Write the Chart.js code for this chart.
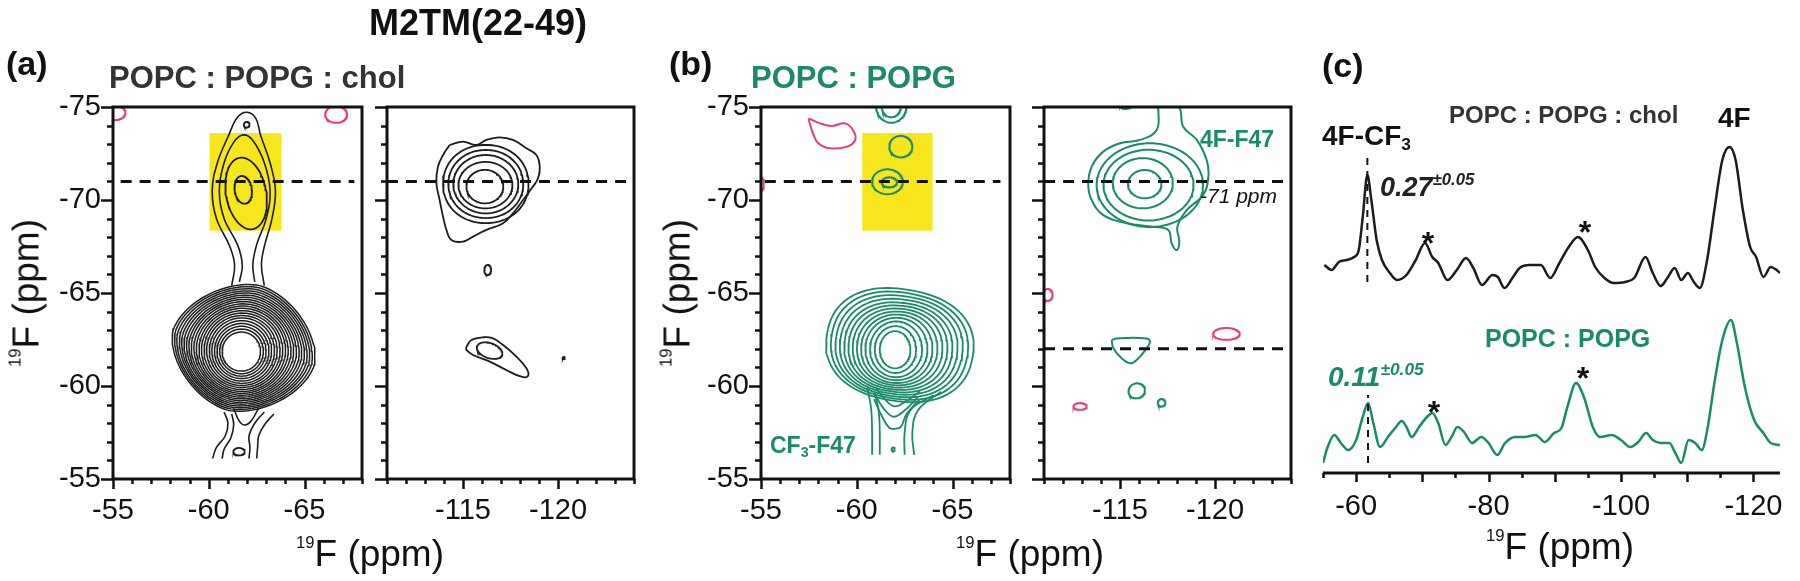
<!DOCTYPE html>
<html lang="en">
<head>
<meta charset="UTF-8">
<title>M2TM(22-49) 19F spectra</title>
<script src="https://cdn.jsdelivr.net/npm/chart.js"></script>
<style>
  body { margin: 0; background: #fff; }
  #fig { position: relative; width: 1800px; height: 581px; overflow: hidden; background: #fff;
         font-family: "Liberation Sans", Arial, Helvetica, sans-serif; color: #111; }
  #fig canvas { position: absolute; top: 0; }
  .t { position: absolute; line-height: 1; white-space: nowrap; }
  .b { font-weight: bold; }
  .i { font-style: italic; }
  .g { color: #1a8a6a; }
  .c { transform: translateX(-50%); }
  .t sup { line-height: 0; }
  .t sub { line-height: 0; font-size: 0.62em; vertical-align: -0.3em; }
  .ax sup { font-size: 0.45em; vertical-align: 1.1em; }
  .pm sup { font-size: 0.62em; vertical-align: 0.65em; }
  .rot { transform: translate(-50%, -50%) rotate(-90deg); }
</style>
</head>
<body>
<div id="fig">
  <canvas id="a1" width="323" height="581" style="left:43px"></canvas>
  <canvas id="a2" width="321" height="581" style="left:317px"></canvas>
  <canvas id="b1" width="323" height="581" style="left:691px"></canvas>
  <canvas id="b2" width="321" height="581" style="left:974px"></canvas>
  <canvas id="c1" width="500" height="581" style="left:1300px"></canvas>

  <div class="t b" style="left:369px;top:5px;font-size:36px">M2TM(22-49)</div>
  <div class="t b" style="left:6px;top:46px;font-size:34px">(a)</div>
  <div class="t b" style="left:109px;top:62px;font-size:31px;color:#333">POPC : POPG : chol</div>
  <div class="t b" style="left:669px;top:46px;font-size:34px">(b)</div>
  <div class="t b g" style="left:751px;top:62px;font-size:31px">POPC : POPG</div>
  <div class="t b g" style="left:770px;top:434px;font-size:23px">CF<sub>3</sub>-F47</div>
  <div class="t b g" style="left:1200px;top:128px;font-size:23px">4F-F47</div>
  <div class="t i" style="left:1200px;top:185px;font-size:21px">-71 ppm</div>

  <div class="t ax rot" style="left:26px;top:293px;font-size:37px"><sup>19</sup>F (ppm)</div>
  <div class="t ax rot" style="left:677px;top:293px;font-size:37px"><sup>19</sup>F (ppm)</div>
  <div class="t ax c" style="left:370px;top:535px;font-size:37px"><sup>19</sup>F (ppm)</div>
  <div class="t ax c" style="left:1030px;top:535px;font-size:37px"><sup>19</sup>F (ppm)</div>
  <div class="t ax c" style="left:1560px;top:528px;font-size:37px"><sup>19</sup>F (ppm)</div>

  <div class="t b" style="left:1322px;top:48px;font-size:34px">(c)</div>
  <div class="t b" style="left:1322px;top:122px;font-size:28px">4F-CF<sub>3</sub></div>
  <div class="t b" style="left:1449px;top:103px;font-size:24px;color:#333">POPC : POPG : chol</div>
  <div class="t b" style="left:1718px;top:104px;font-size:28px">4F</div>
  <div class="t b i pm" style="left:1380px;top:174px;font-size:27px;color:#222">0.27<sup>±0.05</sup></div>
  <div class="t b g" style="left:1485px;top:326px;font-size:25px">POPC : POPG</div>
  <div class="t b i g pm" style="left:1328px;top:363px;font-size:28px">0.11<sup>±0.05</sup></div>
  <div class="t b c" style="left:1428px;top:227px;font-size:32px">*</div>
  <div class="t b c" style="left:1585px;top:216px;font-size:32px">*</div>
  <div class="t b c" style="left:1434px;top:396px;font-size:32px">*</div>
  <div class="t b c" style="left:1583px;top:362px;font-size:32px">*</div>
</div>

<script>
// ---------- data (19F shifts in ppm) ----------
// contour rows: [centre x, centre y, half-width x, half-width y, tilt deg, shape n]
const aBlob = [
  [-61.82, -62.05, 3.80, 3.45, -14, 1.7], [-61.81, -62.04, 3.66, 3.34, -14, 1.72],
  [-61.80, -62.03, 3.52, 3.23, -13, 1.74], [-61.80, -62.02, 3.38, 3.12, -13, 1.76],
  [-61.79, -62.01, 3.24, 3.01, -12, 1.78], [-61.78, -62.00, 3.10, 2.90, -11, 1.8],
  [-61.78, -61.99, 2.96, 2.79, -10, 1.82], [-61.77, -61.98, 2.82, 2.68, -9, 1.85],
  [-61.76, -61.97, 2.68, 2.57, -8, 1.88], [-61.76, -61.96, 2.54, 2.46, -7, 1.9],
  [-61.75, -61.95, 2.40, 2.35, -6, 1.92], [-61.75, -61.94, 2.26, 2.24, -5, 1.95],
  [-61.74, -61.93, 2.12, 2.12, -4, 1.97], [-61.74, -61.92, 1.98, 2.00, -3, 2.0],
  [-61.73, -61.91, 1.84, 1.88, -2, 2.0], [-61.73, -61.90, 1.70, 1.76, 0, 2.0],
  [-61.72, -61.89, 1.56, 1.62, 0, 2.0], [-61.72, -61.88, 1.42, 1.48, 0, 2.0],
  [-61.71, -61.87, 1.28, 1.34, 0, 2.0], [-61.71, -61.86, 1.14, 1.20, 0, 2.0],
  [-61.70, -61.85, 1.00, 1.05, 0, 2.0]
];
const aPeak = [
  [-61.95, -70.35, 1.05, 1.95, 10, 2], [-61.80, -70.55, 0.45, 0.75, 8, 2],
  [-61.98, -74.05, 0.15, 0.15, 0, 2], [-61.58, -56.47, 0.30, 0.20, 0, 2]
];
const aLines = [
  [[-61.2,-65.4],[-61.35,-66.5],[-61.1,-67.5],[-60.4,-69.0],[-60.18,-70.5],[-60.45,-72.0],[-61.05,-73.5],[-61.5,-74.45],[-62.0,-74.72],[-62.45,-74.4],[-62.7,-73.5],[-63.2,-72.0],[-63.48,-70.5],[-63.3,-69.0],[-62.9,-67.5],[-62.75,-66.5],[-62.9,-65.4]],
  [[-61.6,-65.6],[-61.75,-66.5],[-61.5,-67.6],[-60.8,-69.0],[-60.55,-70.5],[-60.8,-72.0],[-61.3,-73.1],[-61.8,-73.5],[-62.3,-73.2],[-62.9,-72.0],[-63.2,-70.5],[-63.0,-69.0],[-62.5,-67.6],[-62.3,-66.5],[-62.4,-65.6]],
  [[-60.8,-58.6],[-61.0,-58.0],[-60.85,-57.3],[-60.4,-56.7],[-60.2,-56.1]],
  [[-61.2,-58.5],[-61.3,-57.9],[-61.15,-57.2],[-60.8,-56.6],[-60.7,-56.1]],
  [[-62.9,-58.6],[-62.4,-58.0],[-62.1,-57.3],[-62.15,-56.7],[-62.1,-56.1]],
  [[-63.4,-58.5],[-62.9,-57.9],[-62.6,-57.3],[-62.55,-56.7],[-62.5,-56.1]],
  [[-61.3,-58.8],[-61.6,-58.1],[-61.9,-57.9],[-62.2,-58.1],[-62.6,-58.8]]
];
const aNeg = [[-55.1, -74.7, 0.55, 0.4, 0, 2], [-66.65, -74.6, 0.57, 0.45, 0, 2]];

const a2Rings = [
  [-116.2, -70.86, 2.25, 2.10, 0, 2.1], [-116.2, -70.86, 1.97, 1.83, 0, 2.05],
  [-116.2, -70.85, 1.71, 1.57, 0, 2], [-116.18, -70.80, 1.42, 1.25, 0, 2],
  [-116.15, -70.72, 0.97, 0.90, 0, 2], [-116.3, -66.24, 0.18, 0.27, 0, 2],
  [-116.4, -61.90, 0.70, 0.40, -20, 2], [-120.3, -61.50, 0.06, 0.06, 0, 2]
];
const a2Outer = [[-114.30,-72.96],[-115.00,-73.14],[-115.70,-72.96],[-116.23,-73.23],[-116.93,-73.37],[-117.63,-73.23],[-118.34,-72.78],[-118.86,-72.42],[-119.04,-71.79],[-118.95,-71.17],[-118.68,-70.72],[-118.16,-70.00],[-117.63,-69.28],[-117.11,-68.75],[-116.23,-68.39],[-115.53,-68.03],[-115.00,-67.76],[-114.39,-67.85],[-114.13,-68.39],[-113.95,-69.10],[-113.77,-70.00],[-113.60,-70.90],[-113.68,-71.79],[-113.95,-72.42]];
const a2Tear = [[-115.18,-62.11],[-115.44,-62.47],[-116.05,-62.62],[-116.58,-62.56],[-117.11,-62.20],[-117.81,-61.58],[-118.34,-60.95],[-118.42,-60.54],[-118.07,-60.50],[-117.28,-60.86],[-116.41,-61.31],[-115.53,-61.67],[-115.18,-61.94]];

const bBlob = [
  [-62.25, -62.20, 3.85, 3.00, -10, 2.3], [-62.23, -62.17, 3.58, 2.85, -10, 2.28],
  [-62.21, -62.14, 3.32, 2.70, -9, 2.26], [-62.19, -62.11, 3.07, 2.55, -8, 2.24],
  [-62.17, -62.08, 2.82, 2.40, -7, 2.22], [-62.15, -62.06, 2.58, 2.26, -6, 2.2],
  [-62.13, -62.04, 2.34, 2.12, -5, 2.16], [-62.11, -62.02, 2.10, 1.98, -4, 2.12],
  [-62.09, -62.00, 1.86, 1.84, -2, 2.08], [-62.07, -61.99, 1.62, 1.68, 0, 2.05],
  [-62.05, -61.97, 1.36, 1.50, 0, 2], [-62.02, -61.96, 1.08, 1.26, 0, 2],
  [-62.00, -61.95, 0.80, 1.00, 0, 2]
];
const bPeak = [
  [-61.8, -75.1, 0.8, 0.95, 0, 2], [-61.8, -75.05, 0.5, 0.6, 0, 2],
  [-62.3, -72.87, 0.6, 0.58, 0, 2], [-61.6, -70.98, 0.8, 0.67, 0, 2],
  [-61.7, -70.95, 0.4, 0.27, 0, 2], [-61.9, -56.6, 0.08, 0.1, 0, 2]
];
const bLines = [
  [[-60.55,-59.9],[-60.75,-58.8],[-60.8,-57.5],[-60.8,-56.3]],
  [[-60.95,-59.6],[-61.15,-58.6],[-61.2,-57.5],[-61.2,-56.3]],
  [[-64.4,-59.7],[-63.2,-58.7],[-62.9,-57.5],[-63.0,-56.3]],
  [[-64.0,-59.5],[-62.8,-58.7],[-62.5,-57.5],[-62.5,-56.3]],
  [[-60.9,-59.3],[-61.3,-58.4],[-61.7,-57.75],[-62.0,-57.7],[-62.3,-57.8],[-62.6,-58.5],[-63.3,-59.3]],
  [[-60.9,-59.6],[-61.4,-58.8],[-61.9,-58.35],[-62.4,-58.6],[-63.2,-59.4]],
  [[-61.0,-59.9],[-61.5,-59.25],[-62.0,-58.9],[-62.6,-59.2],[-63.3,-59.7]]
];
const bNegBlob = [[-57.49,-74.39],[-58.09,-74.12],[-58.69,-73.98],[-59.39,-74.12],[-59.80,-73.76],[-59.92,-73.23],[-59.49,-72.87],[-58.59,-72.78],[-57.99,-73.05],[-57.71,-73.59],[-57.55,-74.09]];
const bNeg = [[-55.0, -70.85, 0.15, 0.35, 0, 2]];

const b2Rings = [
  [-116.3, -70.85, 0.88, 0.76, 0, 2], [-116.2, -70.90, 1.58, 1.35, 0, 2],
  [-116.5, -70.80, 2.37, 1.90, 0, 2], [-116.57, -70.80, 2.80, 2.25, 0, 2],
  [-115.88, -59.74, 0.44, 0.40, 20, 2], [-117.19, -59.10, 0.20, 0.20, 0, 2],
  [-115.3, -75.1, 0.3, 0.2, 0, 2]
];
const b2Outer = [[-117.02,-75.02],[-116.93,-73.76],[-116.05,-73.23],[-115.00,-73.05],[-114.12,-72.60],[-113.51,-71.79],[-113.33,-70.81],[-113.51,-70.00],[-114.12,-69.19],[-115.35,-68.75],[-116.75,-68.56],[-117.54,-68.39],[-117.72,-67.67],[-117.98,-67.31],[-118.12,-67.76],[-118.02,-68.56],[-118.51,-69.46],[-119.38,-70.27],[-119.65,-71.25],[-119.56,-72.15],[-119.04,-73.23],[-118.33,-73.94],[-118.07,-75.02]];
const b2Tri = [[-114.56,-62.47],[-114.82,-62.56],[-116.40,-62.56],[-116.58,-62.38],[-116.40,-62.03],[-115.88,-61.40],[-115.53,-61.22],[-115.09,-61.49],[-114.65,-62.03]];
const b2Neg = [[-111.2, -64.9, 0.25, 0.32, 0, 2], [-120.6, -62.8, 0.7, 0.32, 0, 2], [-112.9, -58.9, 0.35, 0.18, 0, 2]];

// yellow boxes [x1, x2, y1, y2], dashed guide positions
const aShade = [-60.04, -63.79, -73.6, -68.35];
const bShade = [-60.29, -63.96, -73.6, -68.35];
const guideA = [-71];
const guideB = [-71, -62];

// panel (c): 1D slices [shift, intensity]
const sliceChol = [[-55.2,20.8],[-56.3,20.3],[-57.4,21.1],[-58.6,21.3],[-59.7,21.6],[-60.4,22.3],[-61.0,25.6],[-61.7,29.8],[-62.3,27.3],[-63.1,23.3],[-63.9,21.3],[-65.1,20.0],[-66.2,19.3],[-67.6,19.8],[-69.0,21.3],[-70.4,23.0],[-71.5,21.6],[-72.4,21.0],[-73.8,19.3],[-75.2,20.3],[-76.6,21.5],[-77.7,20.5],[-79.0,18.8],[-80.6,19.8],[-81.4,19.6],[-82.4,18.5],[-83.7,19.6],[-84.7,20.5],[-86.2,20.8],[-87.9,20.8],[-89.3,19.5],[-90.7,21.0],[-92.1,22.6],[-93.5,23.6],[-95.0,22.3],[-96.1,20.6],[-97.5,19.5],[-98.9,19.0],[-100.6,19.1],[-102.0,19.5],[-103.7,21.6],[-104.8,20.0],[-106.0,18.7],[-107.1,19.6],[-108.1,20.5],[-109.1,19.3],[-110.1,20.0],[-111.0,19.1],[-111.9,18.5],[-113.0,21.3],[-114.1,26.3],[-115.3,31.3],[-116.4,32.6],[-117.3,31.3],[-118.4,26.3],[-119.5,22.6],[-120.4,21.6],[-121.5,19.6],[-122.6,20.6],[-123.5,20.3],[-124.0,20.0]];
const slicePG = [[-55.0,1.0],[-55.7,2.6],[-56.7,3.8],[-57.7,3.0],[-58.8,2.3],[-60.0,3.3],[-61.0,5.6],[-61.8,7.0],[-62.6,5.0],[-63.6,2.6],[-64.8,3.6],[-65.9,4.5],[-66.9,5.2],[-67.6,4.6],[-68.4,3.6],[-69.5,4.6],[-70.7,5.6],[-71.5,6.0],[-72.4,5.0],[-73.5,2.8],[-74.4,3.6],[-75.3,4.6],[-76.3,4.1],[-77.5,3.0],[-78.9,3.6],[-80.0,3.0],[-81.3,1.8],[-82.5,3.0],[-84.0,3.6],[-85.4,3.6],[-87.1,3.8],[-88.5,3.1],[-89.9,4.0],[-91.0,4.5],[-91.9,6.6],[-93.2,9.0],[-94.4,7.6],[-95.8,4.5],[-96.9,3.6],[-98.6,3.8],[-100.0,3.3],[-101.4,2.6],[-102.6,3.1],[-103.8,4.0],[-104.8,3.3],[-106.0,3.0],[-107.3,3.0],[-108.2,2.0],[-109.1,1.0],[-110.2,3.3],[-111.2,3.0],[-112.2,2.3],[-113.1,4.6],[-114.1,9.0],[-115.3,13.3],[-116.6,15.3],[-117.5,13.0],[-118.7,8.6],[-120.1,5.3],[-121.5,4.0],[-122.6,3.0],[-124.0,2.8]];
// dashed markers at the CF3 peak: [shift, from, to]
const markChol = [-61.7, 19.1, 31.6];
const markPG = [-61.8, 1.0, 7.8];

// ---------- drawing ----------
const BLACK = '#1c1c1c', GREEN = '#1a8a6a', PINK = '#e63c7d';
Chart.defaults.font.family = '"Liberation Sans", Arial, Helvetica, sans-serif';

// closed contour from a row
function ring(row, steps = 96) {
  const [cx, cy, rx, ry, tilt, n] = row;
  const a = tilt * Math.PI / 180, pts = [];
  for (let i = 0; i <= steps; i++) {
    const t = 2 * Math.PI * i / steps, c = Math.cos(t), s = Math.sin(t);
    const u = rx * Math.sign(c) * Math.pow(Math.abs(c), 2 / n);
    const v = ry * Math.sign(s) * Math.pow(Math.abs(s), 2 / n);
    pts.push({ x: cx + u * Math.cos(a) - v * Math.sin(a), y: cy + u * Math.sin(a) + v * Math.cos(a) });
  }
  return pts;
}
const pts = arr => arr.map(([x, y]) => ({ x, y }));
const line = (data, color, width, extra) => Object.assign(
  { data, showLine: true, borderColor: color, borderWidth: width, pointRadius: 0, fill: false, tension: 0 }, extra);
const rings = (rows, color, width) => rows.map(r => line(ring(r), color, width));
const curves = (list, color, width) => list.map(p => line(pts(p), color, width, { tension: 0.4 }));
const loop = (p, color, width) => line(pts([...p, p[0]]), color, width, { tension: 0.4 });
const guides = (ys, x1, x2) => ys.map(y => line([{ x: x1, y }, { x: x2, y }], '#111', 3, { borderDash: [11, 8] }));

// frame, ticks, shading
function decor(cfg) {
  return {
    id: 'decor',
    beforeDatasetsDraw(chart) {
      if (!cfg.shade) return;
      const { ctx } = chart, xs = chart.scales.x, ys = chart.scales.y;
      const [x1, x2, y1, y2] = cfg.shade;
      const p1 = xs.getPixelForValue(x1), p2 = xs.getPixelForValue(x2);
      const q1 = ys.getPixelForValue(y1), q2 = ys.getPixelForValue(y2);
      ctx.save();
      ctx.fillStyle = '#f7e61c';
      ctx.fillRect(Math.min(p1, p2), Math.min(q1, q2), Math.abs(p2 - p1), Math.abs(q2 - q1));
      ctx.restore();
    },
    afterDatasetsDraw(chart) {
      const { ctx, chartArea: a } = chart, xs = chart.scales.x, ys = chart.scales.y;
      ctx.save();
      ctx.strokeStyle = '#111';
      ctx.lineWidth = 2.5;
      ctx.beginPath();
      for (let v = Math.ceil(xs.min / cfg.xStep) * cfg.xStep; v <= xs.max + 1e-9; v += cfg.xStep) {
        const x = Math.round(xs.getPixelForValue(v)) + 0.5;
        const len = v % cfg.xMajor === 0 ? cfg.xLen[1] : cfg.xLen[0];
        ctx.moveTo(x, a.bottom); ctx.lineTo(x, a.bottom + len);
      }
      if (cfg.box) {
        for (let v = Math.ceil(ys.min); v <= ys.max; v++) {
          const y = Math.round(ys.getPixelForValue(v)) + 0.5;
          ctx.moveTo(a.left, y); ctx.lineTo(a.left - (v % 5 === 0 ? 12 : 6), y);
        }
      }
      ctx.stroke();
      ctx.lineWidth = 3;
      if (cfg.box) {
        ctx.strokeRect(a.left, a.top, a.right - a.left, a.bottom - a.top);
      } else {
        ctx.beginPath(); ctx.moveTo(a.left, a.bottom); ctx.lineTo(a.right, a.bottom); ctx.stroke();
      }
      ctx.restore();
    }
  };
}

const tickFont = { size: 29 };
function map2D(id, xRange, yLabels, datasets, shade) {
  new Chart(document.getElementById(id), {
    type: 'scatter',
    data: { datasets },
    options: {
      responsive: false, animation: false, events: [], devicePixelRatio: 1,
      layout: { autoPadding: false, padding: { left: 0, right: 4, top: 107, bottom: 0 } },
      plugins: { legend: { display: false }, tooltip: { enabled: false } },
      scales: {
        x: {
          type: 'linear', position: 'bottom', min: xRange[0], max: xRange[1], reverse: true,
          grid: { display: false, drawTicks: false }, border: { display: false },
          ticks: { stepSize: 5, includeBounds: false, autoSkip: false, maxRotation: 0, padding: 15,
                   color: '#111', font: tickFont, callback: v => (v % 5 === 0 ? String(v) : '') },
          afterFit: s => { s.height = 102; }
        },
        y: {
          type: 'linear', min: -75, max: -55, reverse: true,
          grid: { display: false, drawTicks: false }, border: { display: false },
          ticks: { display: yLabels, stepSize: 5, autoSkip: false, padding: 12,
                   color: '#111', font: tickFont, callback: v => String(v) },
          afterFit: s => { s.width = 70; }
        }
      }
    },
    plugins: [decor({ box: true, shade, xStep: 1, xMajor: 5, xLen: [5, 10] })]
  });
}

map2D('a1', [-68, -55], true, [
  ...guides(guideA, -55.4, -67.6),
  ...rings(aNeg, PINK, 2),
  ...rings(aPeak, BLACK, 1.8),
  ...curves(aLines, BLACK, 1.6),
  ...rings(aBlob, BLACK, 1.5)
], aShade);

map2D('a2', [-124, -111], false, [
  ...guides(guideA, -111, -124),
  ...rings(a2Rings, BLACK, 1.8),
  loop(a2Outer, BLACK, 1.8),
  loop(a2Tear, BLACK, 1.8)
], null);

map2D('b1', [-68, -55], true, [
  ...guides(guideA, -55.2, -67.5),
  loop(bNegBlob, PINK, 2),
  ...rings(bNeg, PINK, 2),
  ...rings(bPeak, GREEN, 2),
  ...curves(bLines, GREEN, 1.8),
  ...rings(bBlob, GREEN, 1.8)
], bShade);

map2D('b2', [-124, -111], false, [
  ...guides(guideB, -111, -124),
  ...rings(b2Neg, PINK, 2),
  ...rings(b2Rings, GREEN, 2),
  loop(b2Outer, GREEN, 2),
  loop(b2Tri, GREEN, 2)
], null);

// panel (c)
new Chart(document.getElementById('c1'), {
  type: 'scatter',
  data: {
    datasets: [
      line([{ x: markChol[0], y: markChol[1] }, { x: markChol[0], y: markChol[2] }], '#111', 2, { borderDash: [7, 6] }),
      line([{ x: markPG[0], y: markPG[1] }, { x: markPG[0], y: markPG[2] }], '#111', 2, { borderDash: [7, 6] }),
      line(pts(sliceChol), BLACK, 2.5, { cubicInterpolationMode: 'monotone' }),
      line(pts(slicePG), GREEN, 2.5, { cubicInterpolationMode: 'monotone' })
    ]
  },
  options: {
    responsive: false, animation: false, events: [], devicePixelRatio: 1,
    layout: { autoPadding: false, padding: { left: 23, right: 9, top: 140, bottom: 0 } },
    plugins: { legend: { display: false }, tooltip: { enabled: false } },
    scales: {
      x: {
        type: 'linear', position: 'bottom', min: -124, max: -55, reverse: true,
        grid: { display: false, drawTicks: false }, border: { display: false },
        ticks: { stepSize: 20, includeBounds: false, autoSkip: false, maxRotation: 0, padding: 17,
                 color: '#111', font: tickFont, callback: v => String(v) },
        afterFit: s => { s.height = 108; }
      },
      y: { type: 'linear', min: 0, max: 33.3, display: false }
    }
  },
  plugins: [decor({ box: false, shade: null, xStep: 5, xMajor: 10, xLen: [5, 9] })]
});
</script>
</body>
</html>
